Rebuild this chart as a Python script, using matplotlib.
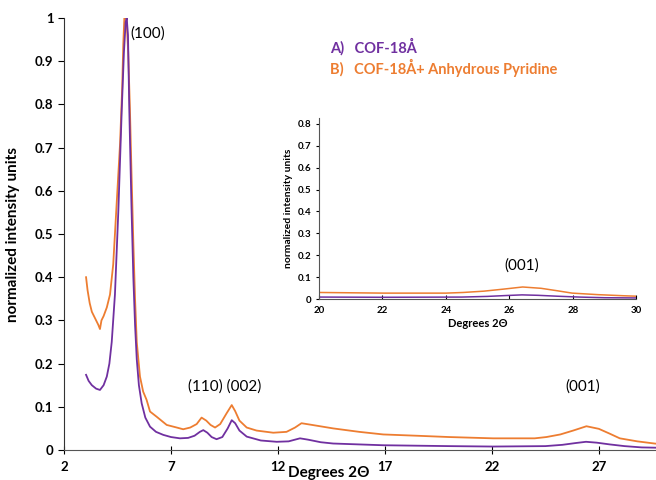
import matplotlib
matplotlib.use("Agg")
import matplotlib.pyplot as plt
from matplotlib.ticker import FormatStrFormatter

plt.rcParams['font.family'] = ['Lato', 'DejaVu Sans']

# COF-18Å (purple)
x_a = [3.03, 3.15, 3.3, 3.5, 3.68, 3.85, 4.0, 4.12, 4.23, 4.38, 4.54, 4.70, 4.80, 4.88,
       4.93, 4.99, 5.05, 5.15, 5.24, 5.32, 5.40, 5.50, 5.63, 5.8, 6.02, 6.3, 6.64,
       7.0, 7.42, 7.8, 8.1, 8.35, 8.51, 8.7, 8.9, 9.13, 9.4, 9.65, 9.84, 10.0, 10.2,
       10.54, 11.2, 11.94, 12.5, 12.8, 13.03, 13.4, 14.0, 14.58, 16.92, 20.0, 22.06,
       24.5, 25.3, 25.9, 26.4, 26.9, 27.5, 28.2, 29.0, 30.0]
y_a = [0.174, 0.16, 0.15, 0.142, 0.139, 0.15, 0.17, 0.20, 0.25, 0.36, 0.555, 0.79, 0.92,
       0.99, 1.0, 0.96, 0.79, 0.57, 0.40, 0.29, 0.21, 0.15, 0.108, 0.075, 0.054, 0.042,
       0.035, 0.03, 0.027, 0.028, 0.033, 0.042, 0.046, 0.04, 0.03, 0.025, 0.03, 0.05,
       0.069, 0.062, 0.045, 0.031, 0.022, 0.019, 0.02, 0.024, 0.027, 0.024, 0.018, 0.015,
       0.011, 0.009, 0.008, 0.009, 0.012, 0.016, 0.019, 0.017, 0.013, 0.009, 0.006, 0.005]

# COF-18Å + Anhydrous Pyridine (orange)
x_b = [3.03, 3.1, 3.2, 3.3, 3.4, 3.5, 3.6, 3.68, 3.75, 3.85, 4.0, 4.15, 4.30, 4.46,
       4.62, 4.72, 4.77, 4.82, 4.92, 5.0, 5.08, 5.16, 5.24, 5.32, 5.40, 5.55, 5.7,
       5.86, 6.02, 6.33, 6.8, 7.27, 7.57, 7.9, 8.2, 8.43, 8.65, 8.85, 9.06, 9.3, 9.6,
       9.84, 10.0, 10.2, 10.54, 11.0, 11.78, 12.4, 12.8, 13.1, 13.6, 14.58, 15.8, 16.92,
       18.5, 20.0, 22.06, 24.0, 24.55, 25.2, 25.8, 26.42, 27.0, 27.5, 27.98, 28.8,
       29.6, 30.0]
y_b = [0.40, 0.37, 0.34, 0.32, 0.31, 0.30, 0.29, 0.28, 0.30, 0.31, 0.33, 0.36, 0.43, 0.57,
       0.71, 0.84, 0.94, 1.0, 1.0, 0.92, 0.79, 0.63, 0.48, 0.35, 0.25, 0.17, 0.135,
       0.116, 0.089, 0.077, 0.058, 0.052, 0.048, 0.052, 0.06, 0.075, 0.068, 0.058, 0.052,
       0.06, 0.085, 0.104, 0.09, 0.068, 0.052, 0.045, 0.040, 0.042, 0.052, 0.062, 0.058,
       0.050, 0.042, 0.036, 0.033, 0.030, 0.027, 0.027, 0.03, 0.036, 0.045, 0.055, 0.049,
       0.038, 0.027, 0.02, 0.015, 0.013]

purple = '#7030A0'
orange = '#ED7D31'

fig = plt.figure(figsize=(6.56, 4.8), dpi=100)
ax = fig.add_axes([0.0976, 0.0625, 0.902, 0.9])
ax.plot(x_b, y_b, color=orange, lw=1.3)
ax.plot(x_a, y_a, color=purple, lw=1.3)
ax.set_xlim(2, 29.66)
ax.set_ylim(0, 1)
ax.set_xticks([2, 7, 12, 17, 22, 27])
ax.set_yticks([i / 10 for i in range(11)])
ax.yaxis.set_major_formatter(FormatStrFormatter('%g'))
for s in ['top', 'right']:
    ax.spines[s].set_visible(False)
ax.spines['left'].set_color('#333333')
ax.spines['bottom'].set_color('#555555')
ax.tick_params(axis='x', direction='inout', length=6, labelsize=9.5, pad=5)
ax.tick_params(axis='y', direction='out', length=4, labelsize=9.5)
for lbl in ax.get_xticklabels() + ax.get_yticklabels():
    lbl.set_fontweight('bold')
ax.set_xlabel('Degrees 2Θ', fontsize=11, fontweight='bold')
ax.xaxis.set_label_coords(0.447, -0.036)
ax.set_ylabel('normalized intensity units', fontsize=11, fontweight='bold')
ax.yaxis.set_label_coords(-0.075, 0.5)

ax.text(5.93, 0.965, '(100)', fontsize=11, ha='center', va='center')
ax.text(9.52, 0.146, '(110) (002)', fontsize=11, ha='center', va='center')
ax.text(26.25, 0.146, '(001)', fontsize=11, ha='center', va='center')

fig.text(0.503, 0.902, 'A)   COF-18Å', color=purple, fontsize=10.5, fontweight='bold', va='center')
fig.text(0.503, 0.858, 'B)   COF-18Å+ Anhydrous Pyridine', color=orange, fontsize=10.5,
         fontweight='bold', va='center')

# inset
ins = fig.add_axes([0.486, 0.377, 0.484, 0.377])
ins.plot(x_b, y_b, color=orange, lw=1.1)
ins.plot(x_a, y_a, color=purple, lw=1.1)
ins.set_xlim(20, 30)
ins.set_ylim(0, 0.826)
ins.set_xticks([20, 22, 24, 26, 28, 30])
ins.set_yticks([i / 10 for i in range(9)])
ins.yaxis.set_major_formatter(FormatStrFormatter('%g'))
for s in ['top', 'right']:
    ins.spines[s].set_visible(False)
ins.spines['left'].set_color('#555555')
ins.spines['bottom'].set_color('#555555')
ins.tick_params(axis='x', direction='in', length=3, labelsize=7, pad=5)
ins.tick_params(axis='y', direction='out', length=2, labelsize=7)
for lbl in ins.get_xticklabels() + ins.get_yticklabels():
    lbl.set_fontweight('bold')
ins.set_xlabel('Degrees 2Θ', fontsize=8, fontweight='bold', labelpad=2)
ins.set_ylabel('normalized intensity units', fontsize=7.5, fontweight='bold', labelpad=3)
ins.text(26.4, 0.155, '(001)', fontsize=11, ha='center', va='center')

fig.savefig('out.png', dpi=100)
